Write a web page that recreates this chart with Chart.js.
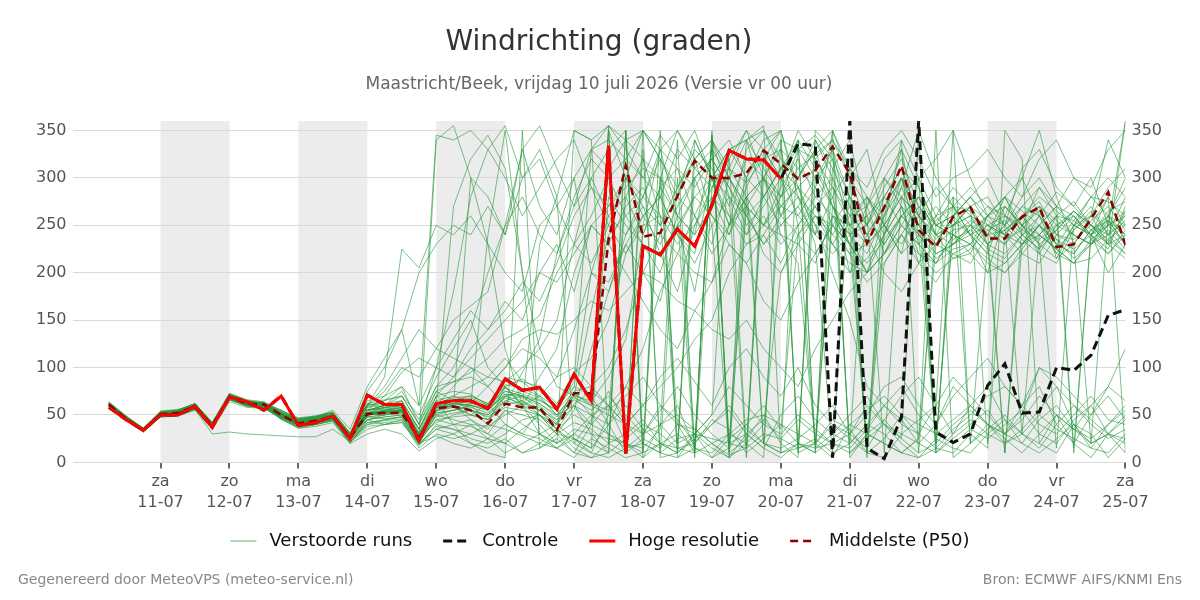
<!DOCTYPE html>
<html>
<head>
<meta charset="utf-8">
<script src="https://cdn.jsdelivr.net/npm/chart.js@4.4.1/dist/chart.umd.min.js"></script>
<style>
  html, body { margin: 0; padding: 0; background: #fff; }
  #wrap { width: 1200px; height: 600px; }
</style>
</head>
<body>
<div id="wrap"><canvas id="chart" width="1200" height="600"></canvas></div>
<script>
const FONT = "'DejaVu Sans', sans-serif";

// tijdas: uren sinds vr 10-07 00:00, elke 6 uur vanaf 06:00
const startHour = 6, stepHours = 6;
const dayNames = ['za', 'zo', 'ma', 'di', 'wo', 'do', 'vr', 'za', 'zo', 'ma', 'di', 'wo', 'do', 'vr', 'za'];
const dayDates = ['11-07', '12-07', '13-07', '14-07', '15-07', '16-07', '17-07', '18-07', '19-07', '20-07', '21-07', '22-07', '23-07', '24-07', '25-07'];
const shadedDays = [1, 3, 5, 7, 9, 11, 13];
const yTicks = [0, 50, 100, 150, 200, 250, 300, 350];

const hoogeResolutie = [58, 45, 34, 50, 50, 59, 37, 69, 64, 55, 70, 39, 42, 49, 25, 71, 61, 61, 23, 62,
  65, 65, 57, 88, 76, 79, 56, 93, 65, 334, 9, 228, 219, 246, 228, 271, 329, 320, 319, 299];

const controle = [58, 45, 34, 50, 50, 59, 37, 69, 64, 55, 70, 39, 42, 49, 25, 71, 61, 61, 23, 62,
  65, 65, 57, 88, 76, 79, 56, 93, 65, 334, 9, 228, 219, 246, 228, 271, 329, 320, 319, 299,
  336, 334, 5, 360, 15, 4, 48, 360, 32, 21, 30, 81, 104, 52, 53, 100, 97, 113, 155, 161];

const mediaan = [61, 46, 34, 51, 52, 59, 39, 69, 62, 61, 50, 41, 44, 48, 26, 51, 52, 52, 26,
  57, 59, 55, 41, 62, 58, 58, 34, 73, 73,
  235, 313, 238, 242, 281, 318, 300, 300, 305, 329, 315,
  299, 308, 333, 305, 231, 269, 313, 245, 227, 259,
  269, 236, 236, 259, 269, 227, 230, 257, 285, 229];

// verstoorde runs (ensembleleden)
const runs = [
  [62,48,35,53,55,62,42,72,66,60, 55,45,47,52,30,58,60,64,35,70, 75,72,60,90,85,80,62,95,110,150, 220,250,260,245,280,300,310,295,320,330, 310,325,340,300,250,280,310,260,240,270, 265,240,245,260,275,240,235,250,280,250],
  [60,47,33,50,51,58,38,68,63,62, 48,40,43,47,24,48,50,55,22,45, 40,38,30,55,50,45,30,42,35,20, 10,25,15,40,35,20,8,15,30,25, 45,30,20,15,35,60,45,20,10,25, 40,55,30,20,45,60,35,25,40,55],
  [63,49,36,54,56,60,40,70,61,58, 52,44,48,55,35,80,110,140,60,345, 340,350,330,355,300,330,280,350,340,355, 330,300,345,320,350,300,330,340,310,280, 330,345,320,280,250,300,330,290,250,260, 280,250,240,270,290,260,240,230,260,300],
  [59,46,34,49,50,57,36,66,60,59, 50,42,44,50,28,60,75,100,90,120, 150,165,180,250,330,270,240,300,200,180, 230,260,280,240,220,300,330,340,280,250, 270,300,320,240,220,260,290,250,230,245, 250,230,220,240,260,235,225,240,255,230],
  [61,45,33,52,53,61,39,71,63,63, 45,38,40,45,22,40,45,48,18,40, 35,25,20,30,45,50,30,25,15,40, 60,35,20,10,30,5,15,340,355,10, 20,15,30,50,70,40,25,350,10,30, 60,80,45,30,20,50,35,20,30,45],
  [58,44,32,48,49,55,35,64,58,57, 47,38,40,44,20,45,48,50,20,55, 60,50,45,65,70,55,40,80,200,260, 280,240,290,310,260,230,300,270,250,290, 320,280,260,230,200,240,270,220,210,240, 230,215,200,225,250,220,210,230,240,220],
  [62,47,35,51,54,60,40,70,65,61, 53,43,46,50,28,55,58,62,30,60, 70,65,55,80,60,70,50,60,40,350, 20,330,10,300,15,340,280,5,320,350, 10,340,300,20,280,260,330,240,20,250, 270,20,240,260,230,15,250,270,240,260],
  [60,46,34,51,52,59,39,69,62,61, 50,41,44,48,26,52,53,53,26,58, 62,60,58,70,75,68,50,72,60,280, 250,230,200,260,300,320,290,250,270,300, 280,260,240,270,230,250,280,260,235,255, 240,250,260,245,235,250,265,245,230,240],
  [57,45,33,50,50,58,38,68,60,58, 46,36,40,44,22,35,40,45,15,30, 25,30,40,35,28,20,15,30,20,10, 25,40,30,15,20,45,35,10,25,40, 30,20,45,35,10,25,50,40,30,20, 35,25,40,55,30,20,45,60,30,25],
  [59,44,33,48,50,56,30,32,30,29, 28,27,27,35,22,38,40,42,18,35, 30,40,25,20,35,50,30,55,120,180, 240,270,220,180,250,280,240,300,330,260, 300,330,270,230,200,260,300,250,270,250, 260,230,250,270,260,240,230,255,270,245],
  [63,48,36,53,54,62,41,72,64,63, 52,46,48,52,30,60,65,70,40,75, 85,95,110,130,140,155,200,230,260,300, 320,300,280,330,310,290,320,350,300,340, 330,300,270,250,230,280,310,290,250,240, 230,260,280,240,225,260,275,250,230,265],
  [61,47,34,52,52,60,39,69,61,60, 49,40,43,47,25,50,52,55,24,50, 45,40,38,50,60,40,20,30,50,40, 80,60,40,20,30,50,330,300,20,10, 340,15,20,30,60,40,30,20,40,80, 60,40,30,50,100,80,40,20,30,50],
  [60,45,35,50,51,59,40,68,62,60, 50,42,45,49,27,55,60,70,50,90, 120,150,100,80,60,90,120,200,250,230, 270,290,250,280,260,220,250,280,300,270, 290,310,280,200,240,270,300,230,210,240, 255,245,230,250,265,230,220,245,260,235],
  [62,46,34,51,53,58,38,70,63,62, 51,43,46,49,26,48,46,48,28,42, 50,55,48,60,65,55,45,62,75,60, 40,20,10,5,30,25,20,15,330,350, 290,240,350,310,5,300,270,210,230,260, 240,220,270,250,230,215,250,240,200,230],
  [59,47,33,49,51,57,37,67,61,60, 48,39,42,46,25,50,55,60,35,65, 70,80,90,85,100,120,80,70,160,240, 260,230,220,250,180,280,260,230,240,210, 250,280,300,260,270,220,250,280,240,215, 225,245,255,235,220,250,260,240,225,270],
  [58,45,33,50,49,58,39,68,60,58, 47,40,42,46,24,42,44,46,20,35, 40,45,35,55,40,30,20,35,30,25, 20,15,35,340,10,20,5,30,45,25, 15,20,40,25,10,5,30,45,60,350, 20,35,50,30,15,40,60,45,30,20],
  [64,49,36,54,55,62,42,73,66,64, 55,46,49,53,31,65,70,80,60,100, 90,120,140,160,190,170,210,260,290,250, 300,280,320,290,330,310,270,320,300,280, 300,340,310,270,250,290,320,270,240,250, 270,280,250,230,260,285,270,250,240,280],
  [60,46,34,51,52,59,39,69,62,61, 50,41,44,48,26,52,53,53,26,58, 60,55,50,70,60,50,40,60,30,10, 350,20,300,40,10,350,5,280,20,300, 340,10,270,230,20,250,340,10,250,280, 20,230,250,30,240,260,10,240,280,10],
  [61,46,35,51,52,60,39,70,62,61, 50,41,44,49,26,55,56,58,30,62, 65,62,60,75,70,65,55,75,80,100, 140,200,240,220,260,300,280,240,260,230, 250,270,230,210,200,220,260,240,220,230, 240,220,210,230,250,235,215,230,245,225],
  [60,46,34,51,50,59,38,69,61,60, 49,40,44,48,25,45,48,50,22,45, 48,50,45,58,55,50,35,50,40,30, 15,30,40,50,35,20,30,45,50,40, 20,10,25,40,55,70,50,30,15,35, 50,70,80,60,40,30,50,70,45,40],
  [62,47,35,52,54,61,40,71,64,62, 52,44,47,51,30,75,100,140,200,230, 250,240,270,240,300,320,270,300,330,310, 340,320,300,350,310,330,300,340,350,320, 300,330,350,300,270,320,340,300,260,270, 290,270,250,280,300,270,250,260,290,310],
  [59,45,33,49,50,57,38,67,60,59, 48,39,42,46,25,60,90,225,205,250, 240,260,230,200,180,250,270,230,210,250, 220,260,280,240,210,250,280,260,230,250, 270,240,220,240,250,230,260,280,240,230, 250,240,230,260,270,250,240,230,255,240],
  [61,47,34,51,53,60,39,70,63,61, 51,42,45,49,27,50,52,54,25,52, 55,58,52,68,62,58,42,66,55,70, 50,30,60,45,20,40,55,30,15,50, 70,45,30,20,40,60,80,50,30,45, 60,40,30,45,70,50,35,60,80,65],
  [60,45,33,50,51,58,38,68,62,60, 49,41,43,47,25,50,54,58,28,56, 66,70,62,80,88,75,60,90,70,40, 10,350,320,280,340,300,250,290,330,300, 260,290,330,250,280,240,300,260,230,220, 210,240,270,250,220,210,245,260,230,215],
  [58,44,32,48,49,56,37,66,60,58, 47,39,41,45,23,45,50,55,20,50, 55,60,45,70,65,50,35,60,50,60, 80,120,180,220,200,190,250,270,220,200, 230,260,250,220,190,210,240,220,200,215, 220,200,210,230,240,225,210,215,235,220],
  [62,48,35,52,54,61,41,71,64,63, 53,44,47,51,29,55,58,60,30,60, 62,60,55,72,70,62,48,70,50,30, 20,10,350,5,15,10,30,20,5,340, 10,20,5,40,30,20,10,25,230,260, 280,300,260,250,290,270,300,280,260,290],
  [60,46,34,50,52,60,39,69,62,60, 49,40,44,48,26,48,50,52,24,48, 52,55,50,65,60,55,40,68,60,50, 40,60,80,100,130,150,200,230,250,240, 230,210,260,240,200,220,250,230,210,225, 230,250,240,220,210,240,260,235,220,240],
  [61,47,35,52,53,60,40,70,63,62, 51,42,46,50,28,58,65,80,40,100, 180,280,330,300,260,290,320,340,290,270, 300,260,230,270,300,320,290,260,280,310, 290,250,200,150,80,60,40,30,60,90, 70,50,30,60,80,40,20,50,70,45],
  [59,46,34,51,51,59,38,69,61,60, 50,41,44,48,26,50,52,53,25,55, 60,65,55,72,68,60,45,70,65,90, 130,240,290,260,240,270,310,280,250,270, 290,270,240,220,230,250,280,260,240,250, 260,250,235,245,270,255,240,230,250,265],
  [63,48,36,53,55,62,41,72,65,63, 53,45,48,52,30,60,62,65,35,70, 60,45,30,20,10,15,25,10,5,20, 30,45,20,10,25,40,60,35,20,15, 25,40,60,30,15,45,70,90,60,30, 45,30,20,35,55,80,60,40,25,35],
  [60,46,33,50,52,59,39,69,62,60, 49,40,43,47,26,52,54,55,27,60, 65,68,60,78,72,66,55,85,330,355, 340,350,330,310,290,320,340,300,280,310, 330,320,290,260,240,270,300,270,250,260, 270,255,240,260,280,265,250,240,265,275],
  [61,46,35,51,53,60,39,70,62,61, 50,42,44,48,27,53,55,57,28,58, 62,60,55,75,70,62,50,72,62,55, 70,90,60,40,30,50,80,60,40,200, 240,220,250,230,210,235,260,240,215,230, 245,225,215,240,250,230,220,245,255,230],
  [60,45,34,50,51,58,38,68,61,60, 49,40,43,47,25,50,52,55,26,54, 58,62,80,100,130,140,135,150,170,160, 180,200,190,170,160,140,130,150,120,100, 80,120,150,180,200,220,240,210,190,220, 230,210,200,220,240,225,210,235,250,230],
  [62,47,35,52,54,61,40,71,63,62, 51,43,46,50,28,55,57,60,30,62, 68,70,62,82,78,70,58,80,70,350, 300,270,250,290,320,260,240,280,300,260, 240,270,290,250,260,230,260,280,250,240, 220,260,280,250,230,245,265,250,235,250],
  [59,45,33,49,50,57,37,67,60,59, 48,39,42,46,24,40,42,44,20,38, 35,30,25,40,30,25,15,25,10,5, 15,20,10,25,30,15,5,20,40,30, 50,35,20,10,30,45,25,10,20,40, 55,40,20,30,50,35,25,15,40,60],
  [61,47,34,51,52,60,39,69,62,61, 50,41,44,48,26,55,60,75,45,80, 100,140,200,250,280,240,220,270,300,260, 240,280,260,230,250,290,300,260,230,260, 280,250,230,260,280,250,220,240,260,235, 245,260,270,250,240,260,255,240,250,260],
  [60,46,34,50,52,59,38,69,62,61, 49,38,42,46,24,50,53,56,25,340, 355,300,230,120,60,30,20,350,340,20, 300,350,320,10,340,300,250,330,350,310, 20,300,330,280,10,240,290,350,300,270, 240,200,260,300,350,280,230,260,340,300],
  [61,47,35,52,53,60,40,70,63,62, 52,45,47,50,28,52,55,58,30,62, 270,320,345,310,200,120,150,230,300,330, 350,10,300,260,240,330,20,300,340,350, 280,230,10,300,330,250,220,300,320,350, 300,260,250,310,330,290,270,300,250,360],
  [59,45,33,49,51,57,37,67,61,59, 48,40,43,47,25,55,70,95,110,100, 130,160,140,170,150,200,230,180,250,230, 200,170,140,120,160,190,230,210,170,150, 190,220,250,280,240,200,180,210,260,290, 270,240,280,300,260,220,250,280,300,280],
  [62,48,35,52,54,61,41,71,64,62, 55,47,49,53,30,62,58,60,32,65, 40,20,10,5,350,15,30,10,40,60, 20,5,40,60,15,345,10,25,50,20, 5,350,330,10,25,40,20,5,15,10, 30,15,350,320,20,10,40,30,5,25],
  [60,46,34,51,51,59,39,69,62,60, 50,41,44,48,26,52,54,55,27,58, 60,300,280,240,330,355,310,270,330,340, 320,350,5,10,320,340,310,350,330,300, 350,320,340,310,290,330,350,320,280,300, 310,330,300,280,320,340,300,290,330,350],
  [58,44,32,48,49,56,36,66,59,57, 46,37,40,44,21,42,45,48,20,60, 80,100,90,110,85,70,90,100,80,60, 40,60,90,110,85,60,100,120,90,70, 100,60,40,30,50,80,90,60,40,70, 90,110,80,60,100,90,70,50,80,120],
  [61,46,34,51,53,60,39,70,62,61, 51,42,45,49,27,55,60,62,28,52, 55,60,240,350,200,30,40,25,15,355, 10,250,330,260,5,290,320,15,300,330, 250,20,310,340,260,10,280,300,10,280, 260,240,10,230,250,270,15,240,260,250],
  [60,46,34,51,52,59,39,69,62,61, 50,41,44,48,26,50,52,53,25,70, 90,110,130,150,170,200,190,220,250,270, 290,310,300,280,320,340,300,270,250,280, 310,290,250,230,270,300,280,240,230,260, 280,260,240,230,250,270,260,240,220,245],
  [62,47,35,52,54,60,40,71,63,62, 52,44,47,50,29,45,40,42,20,28, 20,15,25,10,20,30,15,5,25,15, 5,10,20,30,15,5,25,40,20,10, 15,25,10,20,40,30,10,5,25,15, 10,30,45,20,10,25,40,15,10,30],
  [59,46,34,50,51,58,38,68,61,59, 49,40,43,47,25,52,58,65,35,75, 65,55,40,80,60,230,280,20,10,50, 280,320,260,20,300,250,10,270,300,240, 210,20,260,250,10,210,240,270,20,250, 270,230,10,250,270,215,230,20,260,240],
  [61,47,35,52,53,60,40,70,63,62, 51,42,45,49,27,60,80,110,140,120, 110,100,80,60,95,130,220,280,320,300, 260,280,330,350,320,300,260,240,280,310, 340,310,270,240,260,280,250,230,255,270, 250,230,245,260,240,225,245,265,240,255],
  [60,45,33,49,50,57,37,67,60,58, 46,36,38,42,20,30,35,30,12,25, 30,20,15,25,10,20,35,15,5,10, 350,5,20,15,10,345,20,30,15,5, 20,10,350,5,30,20,10,25,350,5, 20,40,25,10,30,50,20,5,30,10],
  [63,48,36,53,55,62,42,72,65,63, 54,46,48,52,31,62,66,70,40,80, 85,90,80,100,120,110,90,140,200,190, 230,200,170,250,280,260,230,210,240,270, 260,240,280,310,280,250,230,260,290,270, 240,260,280,265,250,230,255,280,275,260],
  [60,46,34,51,52,59,39,69,62,60, 50,41,44,48,26,52,54,56,26,60, 58,50,62,40,30,55,35,20,45,75, 40,30,55,80,50,30,15,40,60,35, 240,260,230,200,215,240,270,250,220,230, 250,270,260,240,225,245,265,250,230,360]
];

const toPoints = vals => vals.map((v, i) => ({ x: startHour + i * stepHours, y: v }));

const GREEN = 'rgba(40,150,60,0.6)';

const legendItems = [
  { text: 'Verstoorde runs', color: 'rgba(40,150,60,0.75)', width: 1, dash: [] },
  { text: 'Controle', color: '#111', width: 3, dash: [9, 5] },
  { text: 'Hoge resolutie', color: '#ff0000', width: 3, dash: [] },
  { text: 'Middelste (P50)', color: '#8b0000', width: 2.5, dash: [8, 5] }
];

const datasets = [
  { label: 'Hoge resolutie', data: toPoints(hoogeResolutie), borderColor: '#ff0000', borderWidth: 3 },
  { label: 'Middelste (P50)', data: toPoints(mediaan), borderColor: '#8b0000', borderWidth: 2.5, borderDash: [8, 5] },
  { label: 'Controle', data: toPoints(controle), borderColor: '#111111', borderWidth: 3, borderDash: [9, 5] },
  ...runs.map(r => ({ label: 'Verstoorde runs', data: toPoints(r), borderColor: GREEN, borderWidth: 1 }))
];
datasets.forEach(d => { d.pointRadius = 0; d.fill = false; d.tension = 0; });

const shading = {
  id: 'shading',
  beforeDraw(c) {
    const { ctx, chartArea: a, scales: { x } } = c;
    ctx.save();
    ctx.fillStyle = '#ececec';
    shadedDays.forEach(d => {
      const x0 = x.getPixelForValue(d * 24), x1 = x.getPixelForValue((d + 1) * 24);
      ctx.fillRect(x0, a.top, x1 - x0, a.bottom - a.top);
    });
    ctx.restore();
  }
};

// legenda + voetregel zelf tekenen
const footer = {
  id: 'footer',
  afterDraw(c) {
    const ctx = c.ctx;
    ctx.save();
    ctx.textBaseline = 'middle';
    ctx.font = `18px ${FONT}`;
    const sw = 26, gap = 13, between = 31;
    const total = legendItems.reduce((s, it) => s + sw + gap + ctx.measureText(it.text).width, 0) + between * (legendItems.length - 1);
    let x = 600 - total / 2;
    const y = 541;
    legendItems.forEach(it => {
      ctx.strokeStyle = it.color; ctx.lineWidth = it.width; ctx.setLineDash(it.dash);
      ctx.beginPath(); ctx.moveTo(x, y); ctx.lineTo(x + sw, y); ctx.stroke();
      ctx.setLineDash([]);
      ctx.fillStyle = '#111'; ctx.textAlign = 'left';
      ctx.fillText(it.text, x + sw + gap, y);
      x += sw + gap + ctx.measureText(it.text).width + between;
    });

    ctx.font = `14px ${FONT}`;
    ctx.fillStyle = '#888';
    ctx.textAlign = 'left';
    ctx.fillText('Gegenereerd door MeteoVPS (meteo-service.nl)', 18, 580);
    ctx.textAlign = 'right';
    ctx.fillText('Bron: ECMWF AIFS/KNMI Ens', 1182, 580);
    ctx.restore();
  }
};

const yAxis = pos => ({
  type: 'linear', position: pos, min: 0, max: 360,
  afterBuildTicks: s => { s.ticks = yTicks.map(v => ({ value: v })); },
  grid: { display: pos === 'left', color: '#d9d9d9', drawTicks: false, lineWidth: 1 },
  border: { display: false },
  ticks: { color: '#555', font: { size: 16, family: FONT }, padding: 6 }
});

new Chart(document.getElementById('chart'), {
  type: 'line',
  data: { datasets },
  options: {
    responsive: false,
    animation: false,
    layout: { padding: { left: 30, right: 32, top: 0, bottom: 84 } },
    scales: {
      x: {
        type: 'linear', min: -6.65, max: 360,
        afterBuildTicks: s => { s.ticks = dayDates.map((d, k) => ({ value: (k + 1) * 24 })); },
        grid: { drawOnChartArea: false, drawTicks: true, tickLength: 6, color: '#666', lineWidth: 2 },
        border: { display: false },
        ticks: {
          color: '#555', font: { size: 16, family: FONT, lineHeight: 1.3 }, padding: 3, maxRotation: 0, autoSkip: false,
          callback: v => { const k = v / 24 - 1; return [dayNames[k], dayDates[k]]; }
        }
      },
      y: yAxis('left'),
      y2: yAxis('right')
    },
    plugins: {
      title: { display: true, text: 'Windrichting (graden)', color: '#333', font: { size: 28, family: FONT, weight: 'normal' }, padding: { top: 26, bottom: 15 } },
      subtitle: { display: true, text: 'Maastricht/Beek, vrijdag 10 juli 2026 (Versie vr 00 uur)', color: '#666', font: { size: 17, family: FONT }, padding: { top: 0, bottom: 26 } },
      legend: { display: false },
      tooltip: { enabled: false }
    }
  },
  plugins: [shading, footer]
});
</script>
</body>
</html>
